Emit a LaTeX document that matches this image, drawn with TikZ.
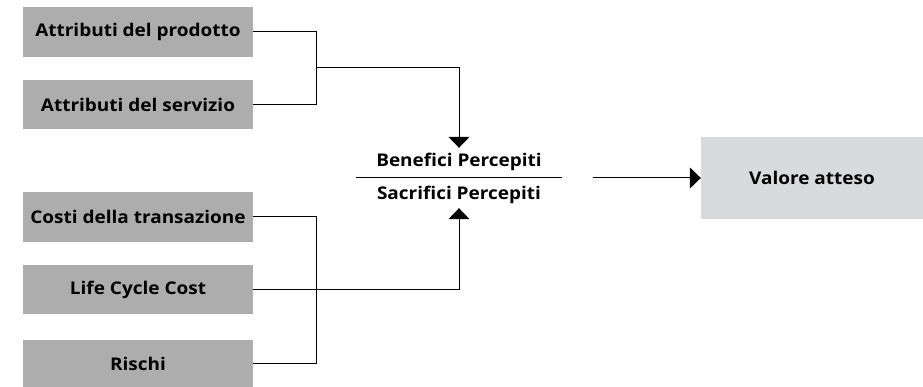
\documentclass[tikz,border=0pt]{standalone}
\usepackage{fontspec}
\setmainfont{Open Sans}[FakeStretch=1.085]
\usetikzlibrary{arrows.meta}
\definecolor{boxgray}{HTML}{ADADAD}
\definecolor{lightgray2}{HTML}{D9DADB}
\newcommand{\dfont}{\fontsize{17.5}{20}\selectfont\bfseries}
\begin{document}
\begin{tikzpicture}[x=1pt,y=-1pt,
  lbox/.style={fill=boxgray,minimum width=230pt,inner sep=0pt,font=\dfont},
  lbl/.style={inner sep=0pt,font=\dfont},
  conn/.style={line width=1pt},
  arr/.style={line width=1pt,-{Triangle[width=21pt,length=11pt]}}]
\useasboundingbox (0,0) rectangle (923,387);
\node[lbox,minimum height=50pt] (p) at (138,32) {Attributi del prodotto};
\node[lbox,minimum height=49pt] (s) at (138,104.5) {Attributi del servizio};
\node[lbox,minimum height=50pt] (c) at (138,217) {Costi della transazione};
\node[lbox,minimum height=49pt] (l) at (138,289.5) {Life Cycle Cost};
\node[lbox,minimum height=47pt] (r) at (138,363.5) {Rischi};
\node[fill=lightgray2,minimum width=222pt,minimum height=82pt,inner sep=0pt,font=\dfont] (v) at (812,178) {Valore atteso};
\node[minimum width=205pt,minimum height=60pt,inner sep=0pt] (frac) at (459,178) {};
\node[lbl] (ben) at (459,162) {Benefici Percepiti};
\node[lbl] (sac) at (459,195) {Sacrifici Percepiti};
\draw[conn] (frac.west) -- (frac.east);
\coordinate (j1) at (316,68);
\draw[conn] (p.east) -- ++(63,0) |- (s.east);
\draw[arr] (j1) -| (frac.north);
\draw[conn] (c.east) -- ++(63,0) |- (r.east);
\draw[arr] (l.east) -| (frac.south);
\draw[arr] ([xshift=31pt]frac.east) -- (v.west);
\end{tikzpicture}
\end{document}
